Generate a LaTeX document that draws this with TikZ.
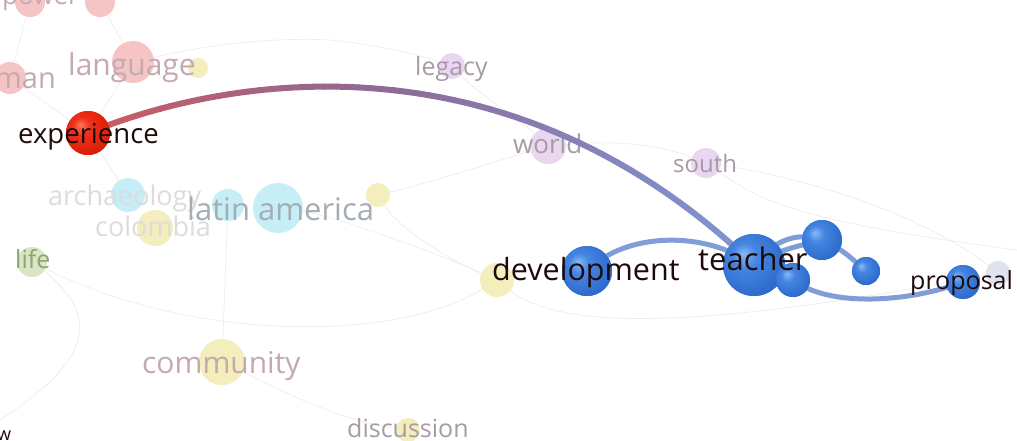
\documentclass[tikz,border=0pt]{standalone}
\usepackage{fontspec}
\setmainfont{Open Sans}
\definecolor{edgeblue}{HTML}{809DD8}
\definecolor{cA}{HTML}{D05A5E}
\definecolor{cM}{HTML}{8E6A94}
\definecolor{cB}{HTML}{7F95D4}
\definecolor{darktxt}{HTML}{1E0A0A}
\definecolor{fpink}{HTML}{F5C4C4}
\definecolor{fcyan}{HTML}{C6EEF7}
\definecolor{fyellow}{HTML}{F4EDBC}
\definecolor{fpurple}{HTML}{EAD6F0}
\definecolor{fgreen}{HTML}{D8E6C4}
\definecolor{flav}{HTML}{E0E2EE}
\definecolor{tpink}{HTML}{C4AAAE}
\definecolor{tgrey}{HTML}{A79BA6}
\definecolor{tblue}{HTML}{A3ADB5}
\definecolor{tfaint}{HTML}{DCDCDC}
\definecolor{tgreen}{HTML}{8EA276}
\definecolor{bhl}{HTML}{86BAF6}
\definecolor{bmid}{HTML}{4586E2}
\definecolor{bdeep}{HTML}{2D6ACA}
\definecolor{bedge}{HTML}{2055AE}
\definecolor{bout}{HTML}{1A4794}
\definecolor{rhl}{HTML}{FF7A5A}
\definecolor{rmid}{HTML}{F0301A}
\definecolor{rdeep}{HTML}{D81E08}
\definecolor{redge}{HTML}{B81600}
\pgfdeclareradialshading{blueballsh}{\pgfpoint{-9bp}{9bp}}{color(0bp)=(bhl); color(10bp)=(bmid); color(30bp)=(bdeep); color(48bp)=(bedge); color(62bp)=(bout)}
\pgfdeclareradialshading{redballsh}{\pgfpoint{-9bp}{9bp}}{color(0bp)=(rhl); color(10bp)=(rmid); color(30bp)=(rdeep); color(50bp)=(redge); color(62bp)=(redge)}
\begin{document}
\begin{tikzpicture}[x=1pt,y=-1pt,
  lbl/.style={inner sep=0pt, anchor=base west, font=\fontsize{#1}{#1}\selectfont},
  dim/.style={circle, fill=#1, draw=none, inner sep=0pt},
  bball/.style={circle, shading=blueballsh, draw=none, inner sep=0pt},
  rball/.style={circle, shading=redballsh, draw=none, inner sep=0pt},
  bedgeline/.style={draw=edgeblue, line width=5pt, line cap=round},
  faint/.style={draw=black!7, line width=0.7pt}]
\useasboundingbox (0,0) rectangle (1017,440);
\fill[white] (0,0) rectangle (1017,440);
\clip (0,0) rectangle (1017,440);

% ---------- node positions ----------
\coordinate (cExp) at (88,133);
% faded circles
\node[dim=fpink, minimum size=30pt] (top1) at (30,2) {};
\node[dim=fpink, minimum size=30pt] (top2) at (100,2) {};
\node[dim=fpink, minimum size=32pt] (human) at (10,78) {};
\node[dim=fpink, minimum size=42pt] (language) at (133,62) {};
\node[dim=fyellow, minimum size=20pt] (ylang) at (198,68) {};
\node[dim=fpurple, minimum size=26pt] (legacy) at (452,66) {};
\node[dim=fpurple, minimum size=36pt] (world) at (548,146) {};
\node[dim=fpurple, minimum size=30pt] (south) at (706,163) {};
\node[dim=fcyan, minimum size=34pt] (archaeology) at (128,195) {};
\node[dim=fyellow, minimum size=36pt] (colombia) at (155,228) {};
\node[dim=fcyan, minimum size=32pt] (latin1) at (228,205) {};
\node[dim=fcyan, minimum size=50pt] (latin) at (278,208) {};
\node[dim=fyellow, minimum size=24pt] (ylat) at (378,195) {};
\node[dim=fgreen, minimum size=30pt] (life) at (32,262) {};
\node[dim=fyellow, minimum size=46pt] (community) at (222,362) {};
\node[dim=fyellow, minimum size=24pt] (discussion) at (408,430) {};
\node[dim=fyellow, minimum size=34pt] (ydev) at (497,280) {};
\node[dim=flav, minimum size=24pt] (lav) at (998,273) {};
\coordinate (eL) at (0,420);
\coordinate (eR) at (1017,250);
\coordinate (eT) at (330,40);

% ---------- faint background links ----------
\draw[faint] (life) .. controls (200,345) and (400,340) .. (ydev);
\draw[faint] (community) -- (latin1);
\draw[faint] (community) .. controls (290,395) and (340,420) .. (discussion);
\draw[faint] (world) .. controls (620,140) and (660,145) .. (south);
\draw[faint] (eT) .. controls (380,45) and (420,55) .. (legacy);
\draw[faint] (language) .. controls (230,40) and (290,38) .. (eT);
\draw[faint] (legacy) .. controls (480,95) and (520,120) .. (world);
\draw[faint] (south) .. controls (820,180) and (930,220) .. (lav);
\draw[faint] (south) .. controls (760,200) and (790,220) .. (eR);
\draw[faint] (ydev) .. controls (430,250) and (330,215) .. (latin);
\draw[faint] (ylat) .. controls (440,180) and (500,160) .. (world);
\draw[faint] (top1) -- (human);
\draw[faint] (top2) -- (language);
\draw[faint] (human) -- (cExp);
\draw[faint] (language) -- (cExp);
\draw[faint] (cExp) -- (archaeology);
\draw[faint] (eL) .. controls (60,380) and (120,330) .. (life);
\draw[faint] (ydev) .. controls (560,330) and (700,330) .. (lav);
\draw[faint] (ylat) .. controls (400,230) and (450,260) .. (ydev);

% ---------- faded labels ----------
\node[lbl=26, text=tpink] (t-power) at (2,4) {power};
\node[lbl=29, text=tpink, anchor=base east] (t-human) at (56,88) {human};
\node[lbl=30, text=tpink] (t-language) at (68,75) {language};
\node[lbl=25, text=tgrey] (t-legacy) at (415,75) {legacy};
\node[lbl=26, text=tgrey] (t-world) at (513,153) {world};
\node[lbl=24, text=tgrey] (t-south) at (673,172) {south};
\node[lbl=27, text=tfaint] (t-archaeology) at (48,205) {archaeology};
\node[lbl=27, text=tfaint] (t-colombia) at (95,236) {colombia};
\node[lbl=31, text=tblue] (t-latin) at (187,220) {latin america};
\node[lbl=25, text=tgreen] (t-life) at (15,268) {life};
\node[lbl=30, text=tpink] (t-community) at (142,373) {community};
\node[lbl=25, text=tgrey] (t-discussion) at (347,437) {discussion};
\node[lbl=18, text=darktxt] (t-w) at (-3,440) {w};

% ---------- cluster nodes (named) ----------
\node[bball, minimum size=50pt] (development) at (587,271) {};
\node[bball, minimum size=62pt] (teacher) at (754,265) {};
\node[bball, minimum size=40pt] (b1) at (822,240) {};
\node[bball, minimum size=34pt] (b2) at (793,280) {};
\node[bball, minimum size=28pt] (b3) at (866,271) {};
\node[bball, minimum size=34pt] (proposal) at (963,282) {};
\node[rball, minimum size=44pt] (experience) at (cExp) {};

% edges
\draw[bedgeline] (development.center) .. controls (625,232) and (705,230) .. (teacher.center);
\draw[bedgeline] (teacher.center) .. controls (775,238) and (800,232) .. (b1.center);
\draw[bedgeline] (teacher.center) .. controls (780,248) and (805,245) .. (b1.center);
\draw[bedgeline] (b1.center) .. controls (845,250) and (855,262) .. (b3.center);
\draw[bedgeline] (b2.center) .. controls (830,308) and (910,302) .. (proposal.center);
\draw[bedgeline] (teacher.center) -- (b2.center);

% gradient main link
\path (experience.center) .. controls (230,75) and (510,30) .. (teacher.center)
  foreach \i in {0,...,60}{coordinate[pos=\i/60] (g\i)};
\foreach \i in {1,...,60}{
  \pgfmathtruncatemacro\k{\i-1}
  \pgfmathtruncatemacro\p{\i*100/60}
  \ifnum\p<50
    \pgfmathtruncatemacro\q{\p*2}
    \colorlet{segc}{cM!\q!cA}
  \else
    \pgfmathtruncatemacro\q{(\p-50)*2}
    \colorlet{segc}{cB!\q!cM}
  \fi
  \draw[segc, line width=6pt, line cap=round] (g\k) -- (g\i);
}

% nodes redrawn on top of edges
\node[dim=flav, minimum size=24pt] at (lav) {};
\node[bball, minimum size=50pt] at (development) {};
\node[bball, minimum size=62pt] at (teacher) {};
\node[bball, minimum size=40pt] at (b1) {};
\node[bball, minimum size=34pt] at (b2) {};
\node[bball, minimum size=28pt] at (b3) {};
\node[bball, minimum size=34pt] at (proposal) {};
\node[rball, minimum size=44pt] at (experience) {};

% ---------- main labels ----------
\node[lbl=27.5, text=darktxt] (t-experience) at (18,143) {experience};
\node[lbl=30.5, text=darktxt] (t-development) at (492,280) {development};
\node[lbl=31, text=darktxt] (t-teacher) at (698,270) {teacher};
\node[lbl=25, text=darktxt] (t-proposal) at (910,289) {proposal};
\end{tikzpicture}
\end{document}
